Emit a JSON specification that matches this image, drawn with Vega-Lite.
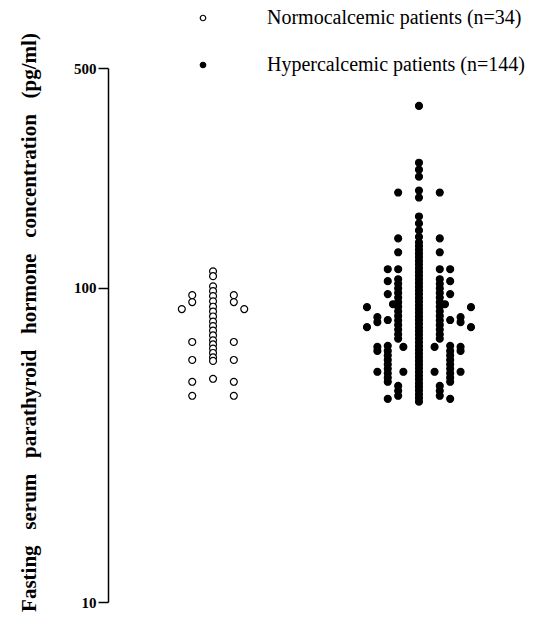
{
  "$schema": "https://vega.github.io/schema/vega-lite/v6.json",
  "autosize": "none",
  "width": 416,
  "height": 534,
  "padding": {"left": 108, "top": 68, "right": 31, "bottom": 40},
  "background": "white",
  "config": {"view": {"stroke": null}, "font": "Liberation Serif"},
  "data": {"values": [
    {"g":"N","s":0,"v":112.8},{"g":"N","s":0,"v":108.8},{"g":"N","s":0,"v":101},{"g":"N","s":0,"v":97.5},{"g":"N","s":0,"v":94},
    {"g":"N","s":0,"v":90.5},{"g":"N","s":0,"v":87},{"g":"N","s":0,"v":84},{"g":"N","s":0,"v":81},{"g":"N","s":0,"v":78},
    {"g":"N","s":0,"v":75.5},{"g":"N","s":0,"v":73},{"g":"N","s":0,"v":70.5},{"g":"N","s":0,"v":68},{"g":"N","s":0,"v":66},
    {"g":"N","s":0,"v":64},{"g":"N","s":0,"v":62},{"g":"N","s":0,"v":60},{"g":"N","s":0,"v":58.5},{"g":"N","s":0,"v":51.3},
    {"g":"N","s":-2,"v":94.7},{"g":"N","s":-2,"v":90.0},{"g":"N","s":-2,"v":67.2},{"g":"N","s":-2,"v":58.9},{"g":"N","s":-2,"v":50.2},{"g":"N","s":-2,"v":45.3},
    {"g":"N","s":2,"v":94.7},{"g":"N","s":2,"v":90.0},{"g":"N","s":2,"v":67.2},{"g":"N","s":2,"v":58.9},{"g":"N","s":2,"v":50.2},{"g":"N","s":2,"v":45.3},
    {"g":"N","s":-3,"v":85.5},{"g":"N","s":3,"v":85.5},

    {"g":"H","s":0,"v":378.8},{"g":"H","s":0,"v":249.8},{"g":"H","s":0,"v":237.4},{"g":"H","s":0,"v":225.6},{"g":"H","s":0,"v":203.7},
    {"g":"H","s":0,"v":193.6},{"g":"H","s":0,"v":168.5},{"g":"H","s":0,"v":160.1},{"g":"H","s":0,"v":152.1},{"g":"H","s":0,"v":145.0},
    {"g":"H","s":0,"v":139.4},{"g":"H","s":0,"v":135.7},{"g":"H","s":0,"v":132.0},{"g":"H","s":0,"v":128.5},{"g":"H","s":0,"v":125.1},
    {"g":"H","s":0,"v":121.7},{"g":"H","s":0,"v":118.5},{"g":"H","s":0,"v":115.3},{"g":"H","s":0,"v":112.2},{"g":"H","s":0,"v":109.2},
    {"g":"H","s":0,"v":106.3},{"g":"H","s":0,"v":103.5},{"g":"H","s":0,"v":100.7},{"g":"H","s":0,"v":98.0},{"g":"H","s":0,"v":95.4},
    {"g":"H","s":0,"v":92.8},{"g":"H","s":0,"v":90.3},{"g":"H","s":0,"v":87.9},{"g":"H","s":0,"v":85.6},{"g":"H","s":0,"v":83.3},
    {"g":"H","s":0,"v":81.0},{"g":"H","s":0,"v":78.9},{"g":"H","s":0,"v":76.8},{"g":"H","s":0,"v":74.7},{"g":"H","s":0,"v":72.7},
    {"g":"H","s":0,"v":70.8},{"g":"H","s":0,"v":68.9},{"g":"H","s":0,"v":67.0},{"g":"H","s":0,"v":65.2},{"g":"H","s":0,"v":63.5},
    {"g":"H","s":0,"v":61.8},{"g":"H","s":0,"v":60.1},{"g":"H","s":0,"v":58.5},{"g":"H","s":0,"v":56.9},{"g":"H","s":0,"v":55.4},
    {"g":"H","s":0,"v":53.9},{"g":"H","s":0,"v":52.5},{"g":"H","s":0,"v":51.1},{"g":"H","s":0,"v":49.7},{"g":"H","s":0,"v":48.4},
    {"g":"H","s":0,"v":47.1},{"g":"H","s":0,"v":45.8},{"g":"H","s":0,"v":44.6},{"g":"H","s":0,"v":43.4},

    {"g":"H","s":-2,"v":200.8},{"g":"H","s":-2,"v":143.5},{"g":"H","s":-2,"v":129.6},{"g":"H","s":-2,"v":114.5},{"g":"H","s":-2,"v":106.4},
    {"g":"H","s":-2,"v":102.9},{"g":"H","s":-2,"v":99.5},{"g":"H","s":-2,"v":96.2},{"g":"H","s":-2,"v":93.0},{"g":"H","s":-2,"v":89.9},
    {"g":"H","s":-2,"v":87.0},{"g":"H","s":-2,"v":84.1},{"g":"H","s":-2,"v":81.3},{"g":"H","s":-2,"v":78.7},{"g":"H","s":-2,"v":76.1},
    {"g":"H","s":-2,"v":73.6},{"g":"H","s":-2,"v":71.1},{"g":"H","s":-2,"v":68.8},{"g":"H","s":-2,"v":48.7},{"g":"H","s":-2,"v":47.0},{"g":"H","s":-2,"v":45.3},
    {"g":"H","s":-3,"v":114.5},{"g":"H","s":-3,"v":104.9},{"g":"H","s":-3,"v":95.4},{"g":"H","s":-3,"v":78.9},{"g":"H","s":-3,"v":65.3},
    {"g":"H","s":-3,"v":62.9},{"g":"H","s":-3,"v":60.9},{"g":"H","s":-3,"v":58.9},{"g":"H","s":-3,"v":57.0},{"g":"H","s":-3,"v":55.2},
    {"g":"H","s":-3,"v":53.4},{"g":"H","s":-3,"v":51.7},{"g":"H","s":-3,"v":50.2},{"g":"H","s":-3,"v":44.3},
    {"g":"H","s":-2.5,"v":88.6},
    {"g":"H","s":-4,"v":80.6},{"g":"H","s":-4,"v":77.7},{"g":"H","s":-4,"v":64.8},{"g":"H","s":-4,"v":62.9},{"g":"H","s":-4,"v":54.0},
    {"g":"H","s":-5,"v":86.7},{"g":"H","s":-5,"v":74.9},
    {"g":"H","s":-1.5,"v":64.8},{"g":"H","s":-1.5,"v":54.0},

    {"g":"H","s":2,"v":200.8},{"g":"H","s":2,"v":143.5},{"g":"H","s":2,"v":129.6},{"g":"H","s":2,"v":114.5},{"g":"H","s":2,"v":106.4},
    {"g":"H","s":2,"v":102.9},{"g":"H","s":2,"v":99.5},{"g":"H","s":2,"v":96.2},{"g":"H","s":2,"v":93.0},{"g":"H","s":2,"v":89.9},
    {"g":"H","s":2,"v":87.0},{"g":"H","s":2,"v":84.1},{"g":"H","s":2,"v":81.3},{"g":"H","s":2,"v":78.7},{"g":"H","s":2,"v":76.1},
    {"g":"H","s":2,"v":73.6},{"g":"H","s":2,"v":71.1},{"g":"H","s":2,"v":68.8},{"g":"H","s":2,"v":48.7},{"g":"H","s":2,"v":47.0},{"g":"H","s":2,"v":45.3},
    {"g":"H","s":3,"v":114.5},{"g":"H","s":3,"v":104.9},{"g":"H","s":3,"v":95.4},{"g":"H","s":3,"v":78.9},{"g":"H","s":3,"v":65.3},
    {"g":"H","s":3,"v":62.9},{"g":"H","s":3,"v":60.9},{"g":"H","s":3,"v":58.9},{"g":"H","s":3,"v":57.0},{"g":"H","s":3,"v":55.2},
    {"g":"H","s":3,"v":53.4},{"g":"H","s":3,"v":51.7},{"g":"H","s":3,"v":50.2},{"g":"H","s":3,"v":44.3},
    {"g":"H","s":2.5,"v":88.6},
    {"g":"H","s":4,"v":80.6},{"g":"H","s":4,"v":77.7},{"g":"H","s":4,"v":64.8},{"g":"H","s":4,"v":62.9},{"g":"H","s":4,"v":54.0},
    {"g":"H","s":5,"v":86.7},{"g":"H","s":5,"v":74.9},
    {"g":"H","s":1.5,"v":64.8},{"g":"H","s":1.5,"v":54.0}
  ]},
  "mark": {"type": "point", "shape": "circle", "filled": true, "stroke": "black", "strokeWidth": 1.2, "size": 48, "opacity": 1},
  "encoding": {
    "x": {"field": "g", "type": "nominal", "scale": {"domain": ["N", "H"], "paddingInner": 0, "paddingOuter": 0.01}, "axis": null},
    "xOffset": {"field": "s", "type": "quantitative", "scale": {"domain": [-9.9, 9.9]}},
    "y": {"field": "v", "type": "quantitative",
      "scale": {"type": "log", "domain": [10, 500], "nice": false},
      "axis": {"values": [10, 100, 500], "format": "d", "grid": false,
        "domainColor": "black", "domainWidth": 1.5, "tickColor": "black", "tickWidth": 1.5, "tickSize": 10,
        "labelFont": "Liberation Serif", "labelFontWeight": "bold", "labelFontSize": 15, "labelColor": "black", "labelPadding": 2,
        "title": "Fasting\u00a0\u00a0\u00a0serum\u00a0\u00a0\u00a0parathyroid\u00a0\u00a0\u00a0hormone\u00a0\u00a0\u00a0concentration\u00a0\u00a0\u00a0(pg/ml)",
        "titleFont": "Liberation Serif", "titleFontWeight": "bold", "titleFontSize": 21, "titleColor": "black",
        "titleAngle": 270, "titleX": -79, "titleY": 254, "titleAlign": "center", "titleBaseline": "middle"}},
    "fill": {"field": "g", "type": "nominal",
      "scale": {"domain": ["N", "H"], "range": ["white", "black"]},
      "legend": {"title": null, "orient": "none", "legendX": 85, "legendY": -60,
        "labelExpr": "datum.label == 'N' ? 'Normocalcemic patients (n=34)' : 'Hypercalcemic patients (n=144)'",
        "labelFont": "Liberation Serif", "labelFontSize": 20, "labelColor": "black", "labelOffset": 54,
        "symbolType": "circle", "symbolSize": 30, "symbolStrokeColor": "black", "symbolStrokeWidth": 1.2,
        "rowPadding": 27, "labelLimit": 400}}
  }
}
